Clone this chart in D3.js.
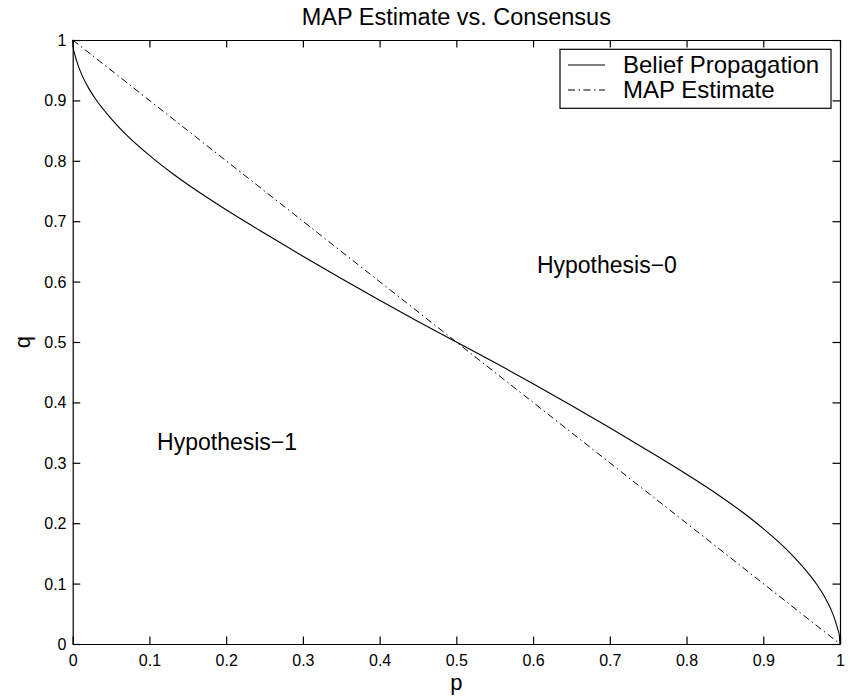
<!DOCTYPE html>
<html>
<head>
<meta charset="utf-8">
<script src="https://cdn.jsdelivr.net/npm/d3@7"></script>
<style>
body { margin: 0; background: #fff; }
svg { font-family: "Liberation Sans", Arial, Helvetica, sans-serif; }
.axis path, .axis line { stroke: #000; stroke-width: 1.2; }
.axis text { font-size: 16px; fill: #000; }
</style>
</head>
<body>
<div id="chart"></div>
<script>
// belief propagation boundary
var bpP = [0, 0.001, 0.003, 0.006, 0.01, 0.02, 0.03, 0.05, 0.07, 0.1, 0.13, 0.16, 0.2, 0.25, 0.3, 0.35, 0.4, 0.45, 0.5,
           0.55, 0.6, 0.65, 0.7, 0.75, 0.8, 0.84, 0.87, 0.9, 0.93, 0.95, 0.97, 0.98, 0.99, 0.994, 0.997, 0.999, 1];
var bpQ = [1, 0.985, 0.975, 0.962, 0.948, 0.922, 0.902, 0.87, 0.843, 0.809, 0.779, 0.752, 0.719, 0.68, 0.642, 0.605, 0.569, 0.534, 0.5,
           0.466, 0.431, 0.395, 0.358, 0.32, 0.281, 0.248, 0.221, 0.191, 0.157, 0.13, 0.098, 0.078, 0.052, 0.038, 0.025, 0.015, 0];
// MAP estimate: straight line q = 1 - p
var mapP = [0, 1];
var mapQ = [1, 0];

var ticks = [0, 0.1, 0.2, 0.3, 0.4, 0.5, 0.6, 0.7, 0.8, 0.9, 1];
var legendNames = ["Belief Propagation", "MAP Estimate"];

var W = 851, H = 696;
var margin = {top: 40, right: 11, bottom: 52, left: 72.7};

var svg = d3.select("#chart").append("svg")
    .attr("width", W)
    .attr("height", H);

var x = d3.scaleLinear().domain([0, 1]).range([margin.left, W - margin.right]);
var y = d3.scaleLinear().domain([0, 1]).range([H - margin.bottom, margin.top]);

var fmt = function(d) { return d3.format("")(+d.toFixed(1)); };
var tk = 7.5;

// axes (inward ticks, box round the plot)
svg.append("g").attr("class", "axis")
    .attr("transform", "translate(0," + y(0) + ")")
    .call(d3.axisBottom(x).tickValues(ticks).tickFormat(fmt).tickSizeInner(-tk).tickSizeOuter(0).tickPadding(11));
svg.append("g").attr("class", "axis")
    .attr("transform", "translate(" + x(0) + ",0)")
    .call(d3.axisLeft(y).tickValues(ticks).tickFormat(fmt).tickSizeInner(-tk).tickSizeOuter(0).tickPadding(6.2))
    .selectAll("text").attr("dy", "0.34em");
svg.append("g").attr("class", "axis")
    .attr("transform", "translate(0," + y(1) + ")")
    .call(d3.axisTop(x).tickValues(ticks).tickFormat("").tickSizeInner(-tk).tickSizeOuter(0));
svg.append("g").attr("class", "axis")
    .attr("transform", "translate(" + x(1) + ",0)")
    .call(d3.axisRight(y).tickValues(ticks).tickFormat("").tickSizeInner(-tk).tickSizeOuter(0));

var line = d3.line()
    .x(function(d) { return x(d[0]); })
    .y(function(d) { return y(d[1]); });

// MAP estimate, dash-dot
svg.append("path")
    .datum(d3.zip(mapP, mapQ))
    .attr("d", line)
    .attr("fill", "none")
    .attr("stroke", "#000")
    .attr("stroke-width", 1)
    .attr("stroke-dasharray", "7,3.5,1.5,3.5");

// belief propagation, solid
svg.append("path")
    .datum(d3.zip(bpP, bpQ))
    .attr("d", line.curve(d3.curveMonotoneX))
    .attr("fill", "none")
    .attr("stroke", "#000")
    .attr("stroke-width", 1.1);

// region labels
svg.append("text")
    .attr("x", x(0.605)).attr("y", y(0.627)).attr("dy", "0.35em")
    .style("font-size", "23px")
    .text("Hypothesis\u22120");
svg.append("text")
    .attr("x", x(0.11)).attr("y", y(0.334)).attr("dy", "0.35em")
    .style("font-size", "23px")
    .text("Hypothesis\u22121");

// title and axis labels
svg.append("text")
    .attr("x", (x(0) + x(1)) / 2).attr("y", 25)
    .attr("text-anchor", "middle")
    .style("font-size", "23.5px")
    .text("MAP Estimate vs. Consensus");
svg.append("text")
    .attr("x", (x(0) + x(1)) / 2).attr("y", 690)
    .attr("text-anchor", "middle")
    .style("font-size", "22px")
    .text("p");
svg.append("text")
    .attr("transform", "translate(30," + (y(0.5)) + ") rotate(-90)")
    .attr("text-anchor", "middle")
    .style("font-size", "22px")
    .text("q");

// legend
var lg = svg.append("g");
var lgL = 560, lgR = 831, lgT = 49.3, lgB = 108.3;
lg.append("rect")
    .attr("x", lgL).attr("y", lgT)
    .attr("width", lgR - lgL).attr("height", lgB - lgT)
    .attr("fill", "#fff").attr("stroke", "#000").attr("stroke-width", 1.2);
var rowY = [65, 90];
lg.selectAll(".lgline").data(legendNames).enter().append("line")
    .attr("x1", lgL + 8).attr("x2", 605)
    .attr("y1", function(d, i) { return rowY[i]; })
    .attr("y2", function(d, i) { return rowY[i]; })
    .attr("stroke", "#000").attr("stroke-width", 1)
    .attr("stroke-dasharray", function(d, i) { return i ? "7,3.5,1.5,3.5" : null; });
lg.selectAll(".lgtext").data(legendNames).enter().append("text")
    .attr("x", 623)
    .attr("y", function(d, i) { return rowY[i]; })
    .attr("dy", "0.35em")
    .style("font-size", "24px")
    .text(function(d) { return d; });
</script>
</body>
</html>
